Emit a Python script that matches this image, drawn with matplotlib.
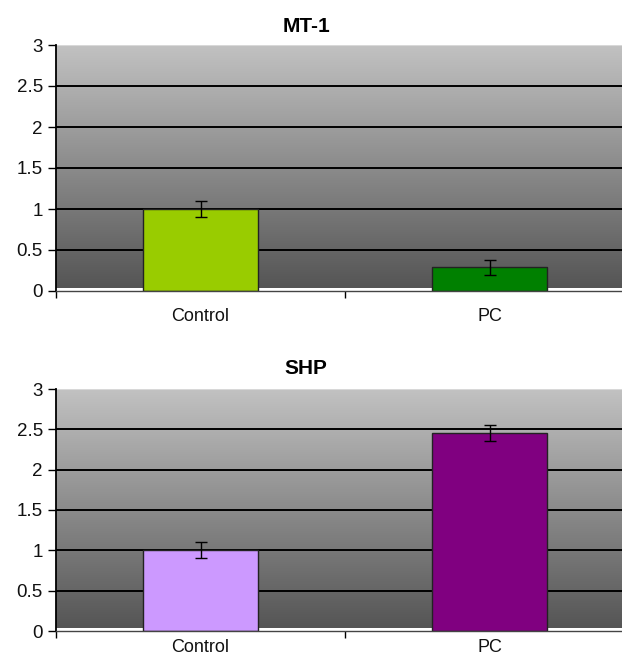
import numpy as np
import matplotlib.pyplot as plt
from matplotlib.colors import LinearSegmentedColormap

plt.rcParams['font.family'] = ['Liberation Sans', 'DejaVu Sans']

categories = ['Control', 'PC']
titles = ['MT-1', 'SHP']
mt1_values = [1.0, 0.29]
mt1_errors = [0.1, 0.09]
shp_values = [1.0, 2.45]
shp_errors = [0.1, 0.1]
mt1_colors = ['#99cc00', '#008000']
shp_colors = ['#cc99ff', '#800080']
yticks = [0, 0.5, 1, 1.5, 2, 2.5, 3]
ytick_labels = ['0', '0.5', '1', '1.5', '2', '2.5', '3']

fig = plt.figure(figsize=(6.22, 6.57), dpi=100)

grey = LinearSegmentedColormap.from_list('bg', ['#555555', '#c2c2c2'])


def panel(rect, title, title_y, label_pad, values, errors, colors):
    ax = fig.add_axes(rect)
    x = np.arange(len(categories))
    ax.set_xlim(-0.5, 1.5)
    ax.set_ylim(0, 3)
    # gradient plot area
    grad = np.linspace(0, 1, 256).reshape(-1, 1)
    ax.imshow(grad, cmap=grey, origin='lower', aspect='auto',
              extent=[-0.5, 1.5, 0.035, 3], zorder=0)
    for yv in yticks[1:-1]:
        ax.axhline(yv, color='black', lw=1.4, zorder=1)
    ax.axhline(3, color='#d8d8d8', lw=1.5, zorder=1)
    ax.bar(x, values, width=0.4, color=colors, edgecolor='#222222',
           linewidth=1.0, zorder=2)
    ax.errorbar(x, values, yerr=errors, fmt='none', ecolor='black',
                elinewidth=1.0, capsize=4, capthick=1.0, zorder=3)
    for s in ['top', 'right']:
        ax.spines[s].set_visible(False)
    ax.spines['left'].set_linewidth(1.3)
    ax.spines['bottom'].set_color('#444444')
    ax.spines['bottom'].set_linewidth(1.0)
    ax.set_yticks(yticks)
    ax.set_yticklabels(ytick_labels, fontsize=13.5, color='#111111')
    ax.tick_params(axis='y', direction='out', length=5.5, width=1.0, pad=4)
    ax.set_xticks([-0.5, 0.5, 1.5])
    ax.set_xticklabels([])
    ax.set_xticks(x, minor=True)
    ax.set_xticklabels(categories, minor=True, fontsize=13, color='#111111')
    ax.tick_params(axis='x', which='major', direction='out', length=5, width=1.0)
    ax.tick_params(axis='x', which='minor', length=0, pad=label_pad)
    fig.text(306 / 622, title_y, title, fontsize=15, fontweight='bold',
             ha='center', va='center')
    return ax


left = 56 / 622
width = (634 - 56) / 622
panel([left, 1 - 291 / 657, width, (291 - 45) / 657], titles[0], 1 - 26 / 657,
      12, mt1_values, mt1_errors, mt1_colors)
panel([left, 1 - 631 / 657, width, (631 - 389) / 657], titles[1], 1 - 368 / 657,
      6, shp_values, shp_errors, shp_colors)

fig.savefig('out.png', dpi=100)
